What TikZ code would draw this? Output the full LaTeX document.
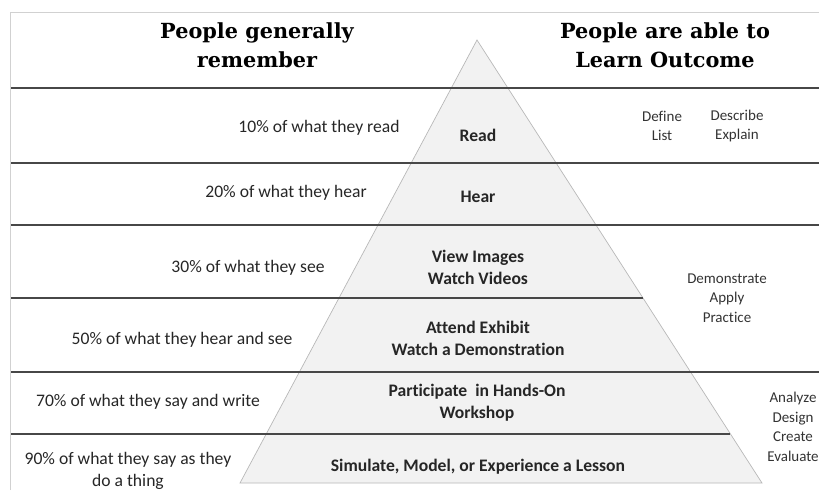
\documentclass[tikz,border=0pt]{standalone}
\usepackage{fontspec}
\setmainfont{Carlito}[Ligatures=NoCommon]
\newfontfamily\headfont{DejaVu Serif}
\begin{document}
\begin{tikzpicture}[x=1pt,y=-1pt,
  band/.style={line width=2.6pt,draw=black!72},
  frame/.style={line width=0.8pt,draw=black!18},
  pyr/.style={fill=black!5,draw=black!28,line width=0.7pt},
  head/.style={font=\headfont\bfseries\fontsize{20.8}{28.5}\selectfont,align=center,inner sep=0pt},
  lefttxt/.style={font=\fontsize{17.6}{22}\selectfont,text=black!85,align=center,inner sep=0pt},
  mid/.style={font=\bfseries\fontsize{17.6}{22}\selectfont,text=black!85,align=center,inner sep=0pt},
  righttxt/.style={font=\fontsize{15}{19.5}\selectfont,text=black!80,align=center,inner sep=0pt}]
\useasboundingbox (0,0) rectangle (819,490);
% frame
\coordinate (fa) at (10,490);
\coordinate (fb) at (10,12);
\coordinate (fc) at (819,12);
\draw[frame] (fa) -- (fb) -- (fc);
% pyramid
\coordinate (apex) at (477,40);
\coordinate (bl) at (240,483);
\coordinate (br) at (762,483);
\draw[pyr] (apex) -- (bl) -- (br) -- cycle;
% band lines
\coordinate (l1a) at (11,88);  \coordinate (l1b) at (819,88);
\coordinate (l2a) at (11,163); \coordinate (l2b) at (819,163);
\coordinate (l3a) at (11,225); \coordinate (l3b) at (819,225);
\coordinate (l4a) at (11,298); \coordinate (l4b) at (643,298);
\coordinate (l5a) at (11,372); \coordinate (l5b) at (819,372);
\coordinate (l6a) at (11,434); \coordinate (l6b) at (730,434);
\draw[band] (l1a) -- (l1b);
\draw[band] (l2a) -- (l2b);
\draw[band] (l3a) -- (l3b);
\draw[band] (l4a) -- (l4b);
\draw[band] (l5a) -- (l5b);
\draw[band] (l6a) -- (l6b);
% headers
\node[head] (h1) at (257,45) {People generally\\remember};
\node[head] (h2) at (665,45) {People are able to\\Learn Outcome};
% left texts
\node[lefttxt] (t1) at (319,128) {10\% of what they read};
\node[lefttxt] (t2) at (286,193) {20\% of what they hear};
\node[lefttxt] (t3) at (248,268) {30\% of what they see};
\node[lefttxt] (t4) at (182,340) {50\% of what they hear and see};
\node[lefttxt] (t5) at (148,402) {70\% of what they say and write};
\node[lefttxt] (t6) at (128,471) {90\% of what they say as they\\do a thing};
% pyramid texts
\node[mid] (m1) at (478,135) {Read};
\node[mid] (m2) at (478,197) {Hear};
\node[mid] (m3) at (478,267) {View Images\\Watch Videos};
\node[mid] (m4) at (478,338) {Attend Exhibit\\Watch a Demonstration};
\node[mid] (m5) at (477,403) {Participate \ in Hands-On\\Workshop};
\node[mid] (m6) at (478,467) {Simulate, Model, or Experience a Lesson};
% right texts
\node[righttxt] (r1) at (662,126) {Define\\List};
\node[righttxt] (r2) at (737,126) {Describe\\Explain};
\node[righttxt] (r3) at (727,298) {Demonstrate\\Apply\\Practice};
\node[righttxt] (r4) at (793,427) {Analyze\\Design\\Create\\Evaluate};
\end{tikzpicture}
\end{document}
